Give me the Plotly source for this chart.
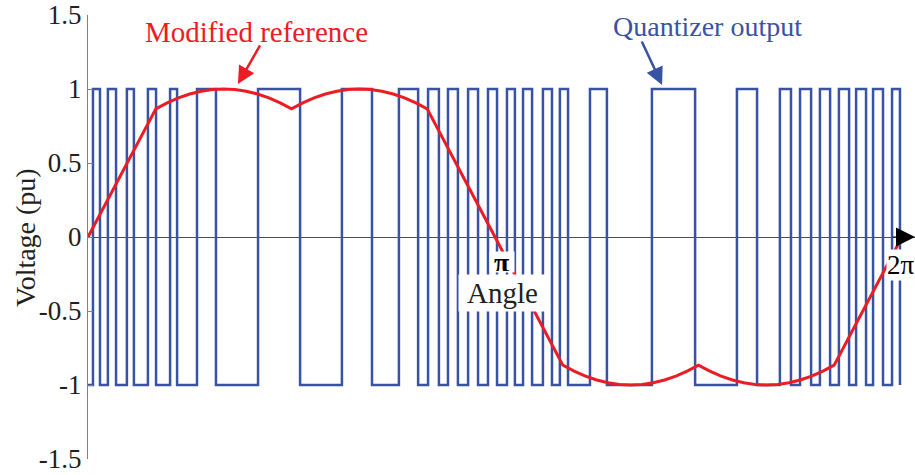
import plotly.graph_objects as go

# Quantizer switching instants (degrees); output starts at -1 and toggles at each instant
switch_deg = [2.2, 5.3, 8.8, 12.4, 17.2, 20.3, 26.5, 30.1, 36.3, 39.4,
              48.2, 56.6, 75.2, 93.8, 112.3, 125.6, 137.5, 146.0, 150.4, 155.2,
              159.2, 163.6, 168.1, 172.5, 176.9, 180.9, 185.3, 188.8, 192.4, 196.4,
              201.2, 205.2, 208.7, 212.3, 222.0, 229.5, 249.4, 268.5, 287.0, 295.9,
              306.0, 310.9, 314.9, 319.8, 323.7, 328.2, 332.1, 336.6, 339.7, 344.1,
              347.2, 351.6, 355.6, 359.1]
start_level = -1

# Modified reference (degrees, pu)
ref_deg = [0, 30, 35, 40, 45, 50, 55, 60, 65, 70, 75, 80, 85, 90,
           95, 100, 105, 110, 115, 120, 125, 130, 135, 140, 145, 150,
           180,
           210, 215, 220, 225, 230, 235, 240, 245, 250, 255, 260, 265, 270,
           275, 280, 285, 290, 295, 300, 305, 310, 315, 320, 325, 330,
           360]
ref_val = [0, 0.866, 0.906, 0.940, 0.966, 0.985, 0.996, 1.0, 0.996, 0.985, 0.966, 0.940, 0.906, 0.866,
           0.906, 0.940, 0.966, 0.985, 0.996, 1.0, 0.996, 0.985, 0.966, 0.940, 0.906, 0.866,
           0.0,
           -0.866, -0.906, -0.940, -0.966, -0.985, -0.996, -1.0, -0.996, -0.985, -0.966, -0.940, -0.906, -0.866,
           -0.906, -0.940, -0.966, -0.985, -0.996, -1.0, -0.996, -0.985, -0.966, -0.940, -0.906, -0.866,
           0.0]

y_ticks = [-1.5, -1, -0.5, 0, 0.5, 1, 1.5]
y_tick_text = ["-1.5", "-1", "-0.5", "0", "0.5", "1", "1.5"]

BLUE = "#3953A4"
RED = "#EC1C24"
FONT = "Times New Roman, Liberation Serif, serif"

# step polyline for the quantizer
q_x = [0.0]
q_y = [start_level]
level = start_level
for s in switch_deg:
    level = -level
    q_x.append(s)
    q_y.append(level)

fig = go.Figure()
fig.add_trace(go.Scatter(x=q_x, y=q_y, mode="lines", line=dict(color=BLUE, width=2.5, shape="hv"),
                         hoverinfo="skip", showlegend=False))
fig.add_trace(go.Scatter(x=ref_deg, y=ref_val, mode="lines", line=dict(color=RED, width=3),
                         hoverinfo="skip", showlegend=False))

x_max = 365.75
fig.update_xaxes(range=[0, x_max], visible=False, showgrid=False, zeroline=False)
fig.update_yaxes(range=[-1.5, 1.5], tickvals=y_ticks, ticktext=y_tick_text,
                 showline=True, linecolor="#808080", linewidth=1.3,
                 ticks="inside", ticklen=5, tickcolor="#808080", tickwidth=1.3,
                 showgrid=False, zeroline=True, zerolinecolor="#4D4D4D", zerolinewidth=1,
                 tickfont=dict(family=FONT, size=27, color="#231F20"))

annotations = [
    # axis arrowhead
    dict(x=x_max, y=0, ax=-24, ay=0, xref="x", yref="y", text="", showarrow=True,
         arrowhead=2, arrowsize=3.8, arrowwidth=1, arrowcolor="#000000", standoff=0),
    # y-axis title
    dict(x=-0.0762, y=0.5, xref="paper", yref="paper", text="Voltage (pu)", textangle=-90,
         showarrow=False, font=dict(family=FONT, size=28, color="#231F20"),
         xanchor="center", yanchor="middle"),
    # angle labels
    dict(x=183.5, y=-0.378, xref="x", yref="y", text="Angle", showarrow=False,
         bgcolor="white", width=85, height=34, font=dict(family=FONT, size=29, color="#231F20")),
    dict(x=183.1, y=-0.169, xref="x", yref="y", text="<b>π</b>", showarrow=False,
         bgcolor="white", width=22, height=18, font=dict(family=FONT, size=28, color="#000000")),
    dict(x=359.6, y=-0.19, xref="x", yref="y", text="2π", showarrow=False,
         bgcolor="white", font=dict(family=FONT, size=27, color="#000000"), borderpad=0),
    # series labels with pointers
    dict(x=74.7, y=1.385, xref="x", yref="y", text="Modified reference", showarrow=False,
         font=dict(family=FONT, size=29, color=RED)),
    dict(x=66.3, y=1.034, xref="x", yref="y", ax=23, ay=-40, text="", showarrow=True,
         arrowhead=2, arrowsize=1.4, arrowwidth=2.5, arrowcolor=RED, standoff=0),
    dict(x=273.8, y=1.419, xref="x", yref="y", text="Quantizer output", showarrow=False,
         font=dict(family=FONT, size=28, color=BLUE)),
    dict(x=253.9, y=1.027, xref="x", yref="y", ax=-21, ay=-45, text="", showarrow=True,
         arrowhead=2, arrowsize=1.4, arrowwidth=2.5, arrowcolor=BLUE, standoff=0),
]

fig.update_layout(width=915, height=475, margin=dict(l=88, r=0, t=15, b=16),
                  paper_bgcolor="white", plot_bgcolor="white",
                  annotations=annotations, showlegend=False)

fig.write_html("out.html")
